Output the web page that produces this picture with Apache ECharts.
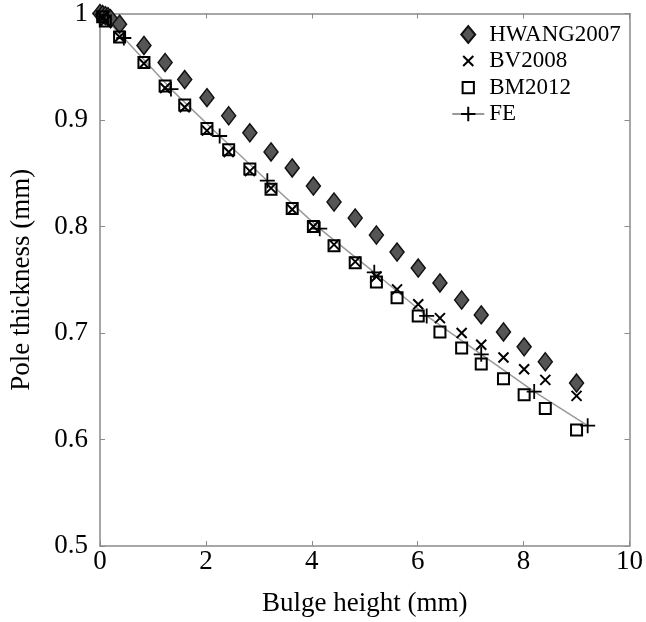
<!DOCTYPE html>
<html>
<head>
<meta charset="utf-8">
<script src="https://cdn.jsdelivr.net/npm/echarts@6/dist/echarts.min.js"></script>
<style>
  html, body { margin: 0; padding: 0; background: #fff; }
  #chart { width: 646px; height: 622px; }
</style>
</head>
<body>
<div id="chart"></div>
<script>
// Pole thickness vs bulge height for three analytical models and FE.
const hwangX = [0, 0.05, 0.1, 0.15, 0.2, 0.37, 0.83, 1.23, 1.6, 2.02, 2.43, 2.83, 3.23, 3.63, 4.03, 4.42, 4.82, 5.22, 5.61, 6.01, 6.42, 6.83, 7.2, 7.62, 8.01, 8.41, 9.0];
const hwangY = [1.0, 0.999, 0.998, 0.997, 0.995, 0.990, 0.970, 0.954, 0.938, 0.921, 0.904, 0.888, 0.870, 0.855, 0.838, 0.823, 0.808, 0.792, 0.776, 0.761, 0.747, 0.731, 0.717, 0.701, 0.687, 0.673, 0.653];

const bvX = [0.05, 0.1, 0.37, 0.83, 1.23, 1.6, 2.02, 2.43, 2.83, 3.23, 3.63, 4.03, 4.42, 4.82, 5.22, 5.61, 6.01, 6.42, 6.83, 7.2, 7.62, 8.01, 8.41, 9.0];
const bvY = [0.997, 0.993, 0.978, 0.953, 0.930, 0.912, 0.890, 0.870, 0.852, 0.836, 0.816, 0.800, 0.783, 0.767, 0.753, 0.741, 0.727, 0.714, 0.700, 0.689, 0.677, 0.666, 0.656, 0.641];

const bmX = [0.05, 0.1, 0.37, 0.83, 1.23, 1.6, 2.02, 2.43, 2.83, 3.23, 3.63, 4.03, 4.42, 4.82, 5.22, 5.61, 6.01, 6.42, 6.83, 7.2, 7.62, 8.01, 8.41, 9.0];
const bmY = [0.997, 0.993, 0.978, 0.954, 0.932, 0.914, 0.892, 0.872, 0.854, 0.835, 0.817, 0.800, 0.782, 0.766, 0.748, 0.733, 0.716, 0.701, 0.686, 0.671, 0.657, 0.642, 0.629, 0.609];

const feX = [0, 0.45, 1.34, 2.26, 3.16, 4.15, 5.18, 6.17, 7.2, 8.2, 9.21];
const feY = [1.0, 0.977, 0.929, 0.885, 0.843, 0.798, 0.757, 0.716, 0.680, 0.645, 0.613];

const xTicks = { min: 0, max: 10, interval: 2 };
const yTicks = { min: 0.5, max: 1, interval: 0.1 };

const pairs = (xs, ys) => xs.map((x, i) => [x, ys[i]]);

const FONT = 'Liberation Serif';
const frameColor = '#8a8a8a';

// Marker shapes
const DIAMOND = 'path://M7,0L14,9L7,18L0,9Z';
const SQUARE = 'path://M0,0L11,0L11,11L0,11Z';
const CROSS = 'path://M0,0L10,10M10,0L0,10';
const PLUS = 'path://M5,0L5,10M0,5L10,5';

// Legend icons drawn inside a 28x16 box (leading moveTo pins the box size)
const BOX = 'M0,0M28,16';
const legendIcons = {
  HWANG2007: 'path://' + BOX + 'M14,0.5L20.2,8L14,15.5L7.8,8Z',
  BV2008: 'path://' + BOX + 'M9.5,3.5L18.5,12.5M18.5,3.5L9.5,12.5',
  BM2012: 'path://' + BOX + 'M9,3L19,3L19,13L9,13Z'
};

const frameAxis = {
  axisLine: { show: true, onZero: false, lineStyle: { color: frameColor, width: 1.5 } },
  axisTick: { show: true, inside: true, length: 5, lineStyle: { color: frameColor, width: 1 } },
  splitLine: { show: false }
};

const chart = echarts.init(document.getElementById('chart'), null, { renderer: 'canvas' });

chart.setOption({
  backgroundColor: '#fff',
  animation: false,
  grid: { left: 89, right: 15, top: 13, bottom: 66 },
  xAxis: [
    Object.assign({
      type: 'value', position: 'bottom',
      min: xTicks.min, max: xTicks.max, interval: xTicks.interval,
      name: 'Bulge height (mm)', nameLocation: 'middle', nameGap: 44,
      nameTextStyle: { fontFamily: FONT, fontSize: 27, color: '#000' },
      axisLabel: { fontFamily: FONT, fontSize: 27, color: '#000', margin: 2 }
    }, frameAxis),
    Object.assign({
      type: 'value', position: 'top',
      min: xTicks.min, max: xTicks.max, interval: xTicks.interval,
      axisLabel: { show: false }
    }, frameAxis)
  ],
  yAxis: [
    Object.assign({
      type: 'value', position: 'left',
      min: yTicks.min, max: yTicks.max, interval: yTicks.interval,
      name: 'Pole thickness (mm)', nameLocation: 'middle', nameGap: 65,
      nameTextStyle: { fontFamily: FONT, fontSize: 27, color: '#000' },
      axisLabel: {
        fontFamily: FONT, fontSize: 27, color: '#000', margin: 12,
        formatter: v => (Math.abs(v - 1) < 1e-9 ? '1' : v.toFixed(1))
      }
    }, frameAxis),
    Object.assign({
      type: 'value', position: 'right',
      min: yTicks.min, max: yTicks.max, interval: yTicks.interval,
      axisLabel: { show: false }
    }, frameAxis)
  ],
  legend: {
    orient: 'vertical',
    left: 450, top: 23, padding: 0,
    itemWidth: 32, itemHeight: 18, itemGap: 3.5,
    textStyle: { fontFamily: FONT, fontSize: 23, color: '#000' },
    data: [
      { name: 'HWANG2007', icon: legendIcons.HWANG2007 },
      { name: 'BV2008', icon: legendIcons.BV2008 },
      { name: 'BM2012', icon: legendIcons.BM2012 },
      { name: 'FE' }
    ]
  },
  series: [
    {
      name: 'FE', type: 'line',
      data: pairs(feX, feY),
      symbol: PLUS,
      symbolSize: 15,
      showAllSymbol: true,
      lineStyle: { color: '#999', width: 1.5 },
      itemStyle: { color: 'none', borderColor: '#000', borderWidth: 1.8 },
      z: 2
    },
    {
      name: 'HWANG2007', type: 'scatter',
      data: pairs(hwangX, hwangY),
      symbol: DIAMOND, symbolSize: [14, 18],
      itemStyle: { color: '#555', borderColor: '#111', borderWidth: 1.5, opacity: 1 },
      z: 3
    },
    {
      name: 'BM2012', type: 'scatter',
      data: pairs(bmX, bmY),
      symbol: SQUARE, symbolSize: 11,
      itemStyle: { color: 'rgba(255,255,255,0)', borderColor: '#000', borderWidth: 2, opacity: 1 },
      z: 4
    },
    {
      name: 'BV2008', type: 'scatter',
      data: pairs(bvX, bvY),
      symbol: CROSS,
      symbolSize: 10,
      itemStyle: { color: 'none', borderColor: '#000', borderWidth: 2, opacity: 1 },
      z: 5
    }
  ]
});
</script>
</body>
</html>
